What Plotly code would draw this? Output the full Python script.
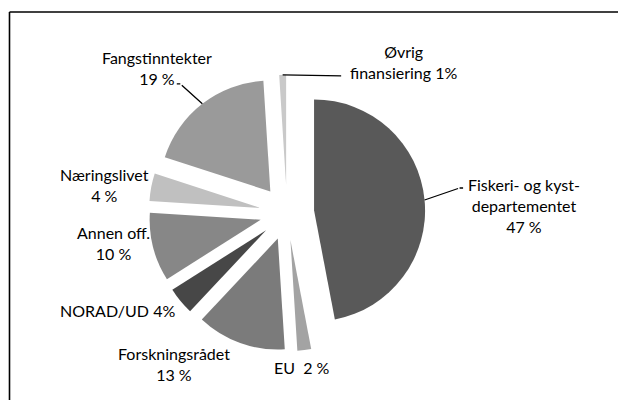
import math
import plotly.graph_objects as go

# data (clockwise from 12 o'clock)
labels = ["Fiskeri- og kyst-<br>departementet<br>47 %", "EU  2 %", "Forskningsrådet<br>13 %",
          "NORAD/UD 4%", "Annen off.<br>10 %", "Næringslivet<br>4 %",
          "Fangstinntekter<br>19 %", "Øvrig<br>finansiering 1%"]
values = [47, 2, 13, 4, 10, 4, 19, 1]

colors = ["#595959", "#a3a3a3", "#7b7b7b", "#474747", "#878787", "#c0c0c0", "#9a9a9a", "#c9c9c9"]
# label centre offset (px) from the outer arc midpoint of each slice
offsets = [(99, 6), (-2, 17), (-66, 21), (-63, 9), (-40, -4), (-47, -2), (-45, -36), (121, -13)]
# leader line segments as (start, end) px offsets from the arc midpoint, None = no line
leaders = [[((0, 0), (35, -12)), ((35, -12), (40, -12))], None, None, None, None, None,
           [((0, 0), (-22, -20)), ((-22, -20), (-27, -20))], [((0, 0), (60, 1))]]

W, H = 618, 400
CX, CY, R, PULL = 287, 213, 111, 0.245
half = R * (1 + PULL)

fig = go.Figure()
fig.add_trace(go.Pie(
    values=values, labels=labels, sort=False, direction="clockwise", rotation=0,
    pull=[PULL] * len(values), marker=dict(colors=colors, line=dict(width=0)),
    textinfo="none", hoverinfo="label+value", showlegend=False,
    domain=dict(x=[(CX - half) / W, (CX + half) / W], y=[1 - (CY + half) / H, 1 - (CY - half) / H]),
))

total = sum(values)
cum = 0
for lab, v, (ox, oy), segs in zip(labels, values, offsets, leaders):
    mid = (cum + v / 2) / total * 2 * math.pi
    cum += v
    px = CX + half * math.sin(mid)
    py = CY - half * math.cos(mid)
    fig.add_annotation(x=(px + ox) / W, y=1 - (py + oy) / H, xref="paper", yref="paper",
                       xanchor="center", yanchor="middle", text=lab, showarrow=False)
    for (sx, sy), (ex, ey) in segs or []:
        fig.add_annotation(x=(px + sx) / W, y=1 - (py + sy) / H, xref="paper", yref="paper",
                           text="", showarrow=True, arrowhead=0, arrowwidth=1.3,
                           arrowcolor="black", ax=ex - sx, ay=ey - sy, standoff=0)

# frame (left and top edges; the rest runs off the picture)
frame = dict(color="black", width=1.6)
fig.add_shape(type="line", xref="paper", yref="paper", x0=9.5 / W, x1=9.5 / W, y0=0, y1=1 - 12 / H, line=frame)
fig.add_shape(type="line", xref="paper", yref="paper", x0=9.5 / W, x1=1, y0=1 - 12 / H, y1=1 - 12 / H, line=frame)

fig.update_layout(
    width=W, height=H, margin=dict(l=0, r=0, t=0, b=0),
    paper_bgcolor="white", plot_bgcolor="white",
    font=dict(family="Lato", size=16, color="black"),
)
fig.write_html("out.html", config={"displayModeBar": False},
               post_script="document.body.style.margin='0';document.body.style.overflow='hidden';")
